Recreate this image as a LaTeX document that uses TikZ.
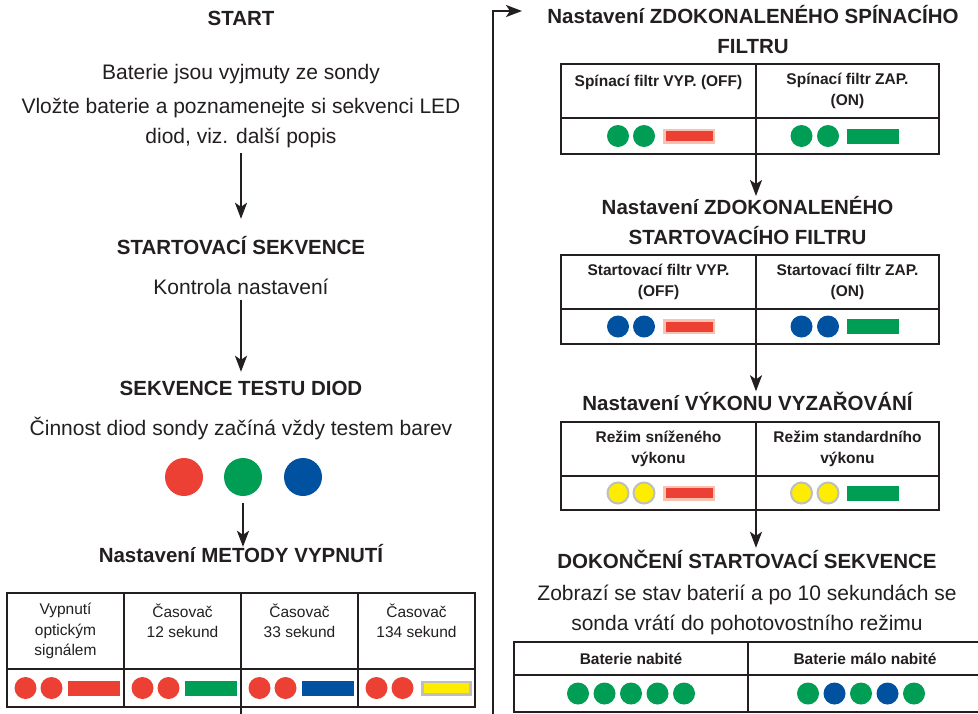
\documentclass[tikz,border=0pt]{standalone}
\usepackage{xcolor}
\usepackage{fontspec}
\setmainfont{Liberation Sans}
\usepackage{tikz}
\usetikzlibrary{shapes.geometric, arrows.meta, positioning}

\definecolor{ink}{RGB}{35,31,32}
\definecolor{ledred}{RGB}{237,64,52}
\definecolor{ledgreen}{RGB}{0,158,84}
\definecolor{ledblue}{RGB}{0,82,160}
\definecolor{ledyellow}{RGB}{255,237,0}
\definecolor{ledgray}{RGB}{190,190,190}
\definecolor{ledpink}{RGB}{250,192,176}

\begin{document}
\begin{tikzpicture}[x=1pt, y=-1pt]
\tikzstyle{heading} = [font=\fontsize{20.5}{30}\selectfont\bfseries, text=ink, inner sep=0pt, align=center]
\tikzstyle{txt} = [font=\fontsize{21}{30}\selectfont, text=ink, inner sep=0pt, align=center]
\tikzstyle{single} = [anchor=base, text height=15pt, text depth=5pt]
\tikzstyle{cell} = [rectangle, draw=ink, line width=2.8pt, outer sep=0pt, inner sep=0pt, text=ink, align=center, font=\fontsize{15.5}{20.5}\selectfont]
\tikzstyle{head} = [cell, font=\fontsize{15.5}{21}\selectfont\bfseries]
\tikzstyle{led} = [circle, inner sep=0pt, minimum size=22pt]
\tikzstyle{gled} = [led, fill=ledgreen]
\tikzstyle{bled} = [led, fill=ledblue]
\tikzstyle{yled} = [led, fill=ledyellow, draw=ledgray, line width=2pt, minimum size=21pt]
\tikzstyle{bar} = [rectangle, inner sep=0pt, minimum width=52pt, minimum height=15pt]
\tikzstyle{arr} = [draw=ink, line width=2pt, -{Stealth[length=16pt, width=12pt, inset=4pt]}]

\path[use as bounding box, fill=white] (0,0) rectangle (978,713);

% left column
\node (start) [heading, single] at (241,25) {START};
\node (out) [txt, single] at (241,79) {Baterie jsou vyjmuty ze sondy};
\node (ins) [txt, anchor=north] at (241,98) {Vložte baterie a poznamenejte si sekvenci LED\\diod, viz. další popis};
\node (seq) [heading, single] at (241,254) {STARTOVACÍ SEKVENCE};
\node (chk) [txt, single] at (241,294) {Kontrola nastavení};
\node (test) [heading, single] at (241,395) {SEKVENCE TESTU DIOD};
\node (col) [txt, single] at (241,435) {Činnost diod sondy začíná vždy testem barev};
\node (r) [led, fill=ledred, minimum size=38pt] at (184,477) {};
\node (g) [led, fill=ledgreen, minimum size=38pt] at (243,477) {};
\node (b) [led, fill=ledblue, minimum size=38pt] at (303,477) {};
\node (off) [heading, single] at (241,562) {Nastavení METODY VYPNUTÍ};

\draw[arr, shorten <=5pt, shorten >=20pt] (ins.south) -- (seq.north);
\draw[arr, shorten <=1pt, shorten >=8pt] (chk.south) -- (test.north);
\draw[arr, shorten <=7pt] (g.south) -- (g.south |- off.north);

\node (m1) [cell, minimum width=117pt, minimum height=76pt, anchor=north west] at (7,593) {Vypnutí\\optickým\\signálem};
\node (m2) [cell, minimum width=117pt, minimum height=76pt, right=0pt of m1] {Časovač\\12 sekund\\\mbox{}};
\node (m3) [cell, minimum width=117pt, minimum height=76pt, right=0pt of m2] {Časovač\\33 sekund\\\mbox{}};
\node (m4) [cell, minimum width=117pt, minimum height=76pt, right=0pt of m3] {Časovač\\134 sekund\\\mbox{}};
\foreach \i in {1,...,4}
  \node (l\i) [cell, minimum width=117pt, minimum height=38pt, below=0pt of m\i] {};
\foreach \i/\c in {1/ledred, 2/ledgreen, 3/ledblue} {
  \node (l\i-a) [led, fill=ledred] at ([xshift=-40pt]l\i.center) {};
  \node (l\i-b) [led, fill=ledred] at ([xshift=-14pt]l\i.center) {};
  \node (l\i-c) [bar, fill=\c] at ([xshift=28pt]l\i.center) {};
}
\node (l4-a) [led, fill=ledred] at ([xshift=-40pt]l4.center) {};
\node (l4-b) [led, fill=ledred] at ([xshift=-14pt]l4.center) {};
\node (l4-c) [bar, fill=ledyellow, draw=ledgray, line width=2.5pt, minimum width=48pt, minimum height=12.5pt] at ([xshift=30pt]l4.center) {};

% right column
\node (fs) [heading, anchor=north] at (753,5) {Nastavení ZDOKONALENÉHO SPÍNACÍHO\\FILTRU};
\node (swh1) [head, minimum width=195pt, minimum height=54pt, anchor=north west] at (561,64) {Spínací filtr VYP. (OFF)\\\mbox{}};
\node (swh2) [head, minimum width=183pt, minimum height=54pt, right=0pt of swh1] {Spínací filtr ZAP.\\(ON)};
\node (swl1) [cell, minimum width=195pt, minimum height=36pt, below=0pt of swh1] {};
\node (swl2) [cell, minimum width=183pt, minimum height=36pt, below=0pt of swh2] {};

\node (st) [heading, anchor=north] at (747.5,196) {Nastavení ZDOKONALENÉHO\\STARTOVACÍHO FILTRU};
\node (sth1) [head, minimum width=195pt, minimum height=54pt, anchor=north west] at (561,255) {Startovací filtr VYP.\\(OFF)};
\node (sth2) [head, minimum width=183pt, minimum height=54pt, right=0pt of sth1] {Startovací filtr ZAP.\\(ON)};
\node (stl1) [cell, minimum width=195pt, minimum height=35pt, below=0pt of sth1] {};
\node (stl2) [cell, minimum width=183pt, minimum height=35pt, below=0pt of sth2] {};

\node (pw) [heading, single] at (747.5,410.5) {Nastavení VÝKONU VYZAŘOVÁNÍ};
\node (pwh1) [head, minimum width=195pt, minimum height=54pt, anchor=north west] at (561,422) {Režim sníženého\\výkonu};
\node (pwh2) [head, minimum width=183pt, minimum height=54pt, right=0pt of pwh1] {Režim standardního\\výkonu};
\node (pwl1) [cell, minimum width=195pt, minimum height=34pt, below=0pt of pwh1] {};
\node (pwl2) [cell, minimum width=183pt, minimum height=34pt, below=0pt of pwh2] {};

\foreach \t/\s in {sw/gled, st/bled, pw/yled} {
  \node (\t l1-a) [\s] at ([xshift=-40.5pt]\t l1.center) {};
  \node (\t l1-b) [\s] at ([xshift=-14.5pt]\t l1.center) {};
  \node (\t l1-c) [bar, fill=ledred, draw=ledpink, line width=2.5pt, minimum width=49.5pt, minimum height=12.5pt] at ([xshift=30.5pt]\t l1.center) {};
  \node (\t l2-a) [\s] at ([xshift=-46pt]\t l2.center) {};
  \node (\t l2-b) [\s] at ([xshift=-19.5pt]\t l2.center) {};
  \node (\t l2-c) [bar, fill=ledgreen] at ([xshift=25pt]\t l2.center) {};
}

\node (fin) [heading, single] at (747,568) {DOKONČENÍ STARTOVACÍ SEKVENCE};
\node (fin2) [txt, anchor=north] at (747,584.5) {Zobrazí se stav baterií a po 10 sekundách se\\sonda vrátí do pohotovostního režimu};
\node (bath1) [head, minimum width=234pt, minimum height=33pt, anchor=north west] at (514,642) {Baterie nabité};
\node (bath2) [head, minimum width=234pt, minimum height=33pt, right=0pt of bath1] {Baterie málo nabité};
\node (batl1) [cell, minimum width=234pt, minimum height=37pt, below=0pt of bath1] {};
\node (batl2) [cell, minimum width=234pt, minimum height=37pt, below=0pt of bath2] {};
\foreach \j [evaluate=\j as \dx using (\j-3)*26.5] in {1,...,5}
  \node (batl1-\j) [gled] at ([xshift=\dx pt]batl1.center) {};
\foreach \j/\s [evaluate=\j as \dx using (\j-3)*26.5-4] in {1/gled, 2/bled, 3/gled, 4/bled, 5/gled}
  \node (batl2-\j) [\s] at ([xshift=\dx pt]batl2.center) {};

\draw[arr] (swl1.south east) -- (swl1.south east |- st.north);
\draw[arr, shorten >=4pt] (stl1.south east) -- (stl1.south east |- pw.north);
\draw[arr, shorten >=5pt] (pwl1.south east) -- (pwl1.south east |- fin.north);

% loop back to the top of the right column
\coordinate (low) at (493,740);
\coordinate (tip) at (522,11);
\draw[arr] (l2.south east) |- (low) |- (tip);

\end{tikzpicture}
\end{document}
